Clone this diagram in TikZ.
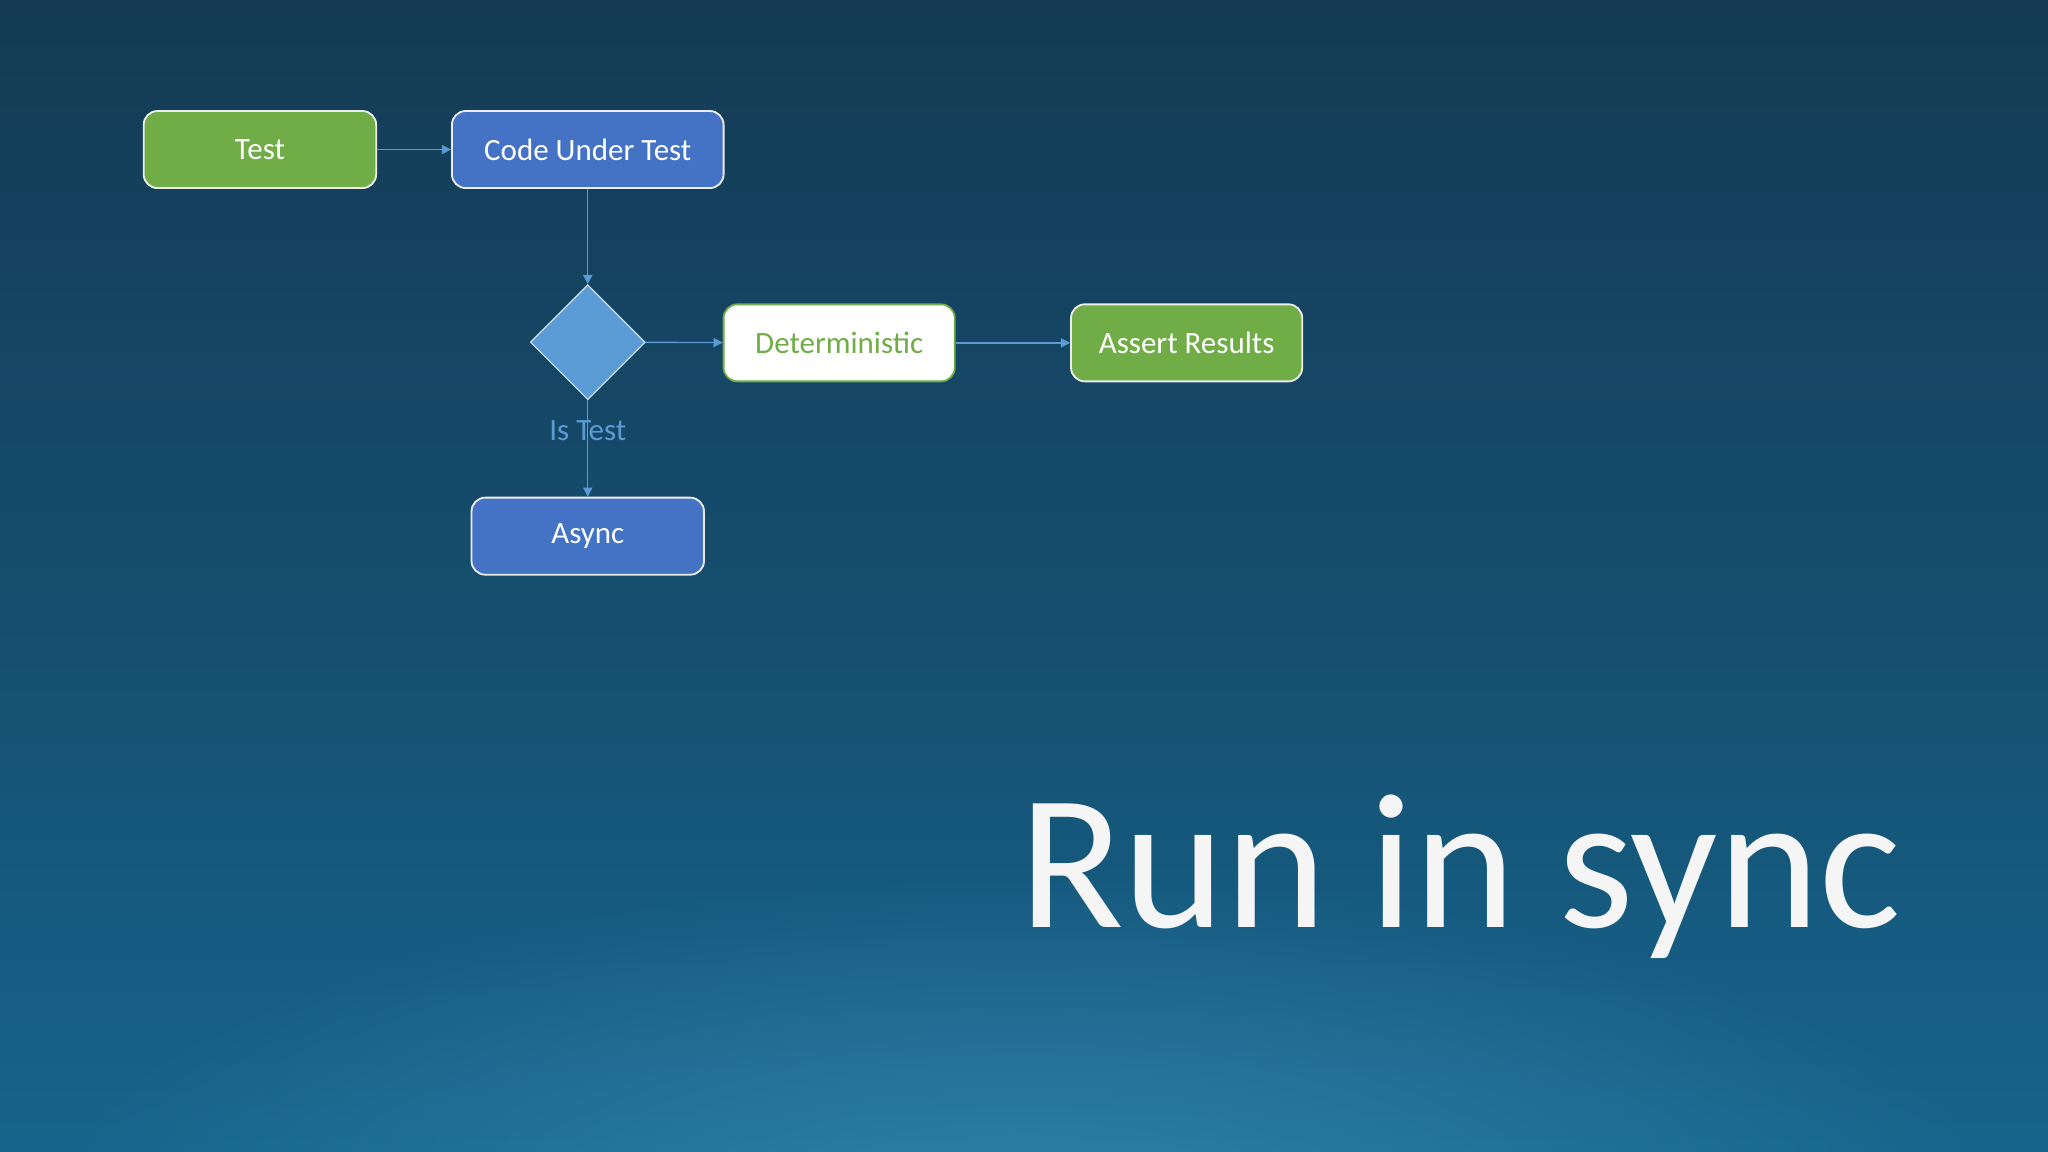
\documentclass[tikz,border=0pt]{standalone}
\usepackage{fontspec}
\setmainfont{Carlito}
\usetikzlibrary{arrows.meta,shapes.geometric,fadings}
\tikzfading[name=glowfade, inner color=transparent!0, outer color=transparent!100]
\definecolor{gfill}{RGB}{112,173,71}
\definecolor{bfill}{RGB}{68,114,196}
\definecolor{dfill}{RGB}{91,155,213}
\definecolor{bgtop}{RGB}{20,58,84}
\definecolor{bgbot}{RGB}{22,100,140}
\tikzset{
 box/.style={draw=white!85!gray,line width=0.8pt,rounded corners=6pt,minimum width=#1*0.02cm,minimum height=1.18cm,font=\fontsize{13.5}{16}\selectfont,text=white},
 gbox/.style={box=#1,fill=gfill},
 bbox/.style={box=#1,fill=bfill},
 conn/.style={draw=dfill,line width=0.6pt,-{Triangle[length=4pt,width=4pt]}}
}
\begin{document}
\begin{tikzpicture}[x=0.02cm,y=-0.02cm]
\useasboundingbox (0,0) rectangle (1568,882);
\shade[top color=bgtop,bottom color=bgbot,middle color=bgtop!55!bgbot] (0,0) rectangle (1568,882);
\begin{scope}
\clip (0,0) rectangle (1568,882);
\fill[cyan!45!bgbot,opacity=0.7,path fading=glowfade] (784,930) ellipse (760 and 260);
\end{scope}
\node[gbox=178] (test) at (199,114.5) {Test};
\node[bbox=208] (cut) at (450,114.5) {Code Under Test};
\node[diamond,fill=dfill,draw=white!70!dfill,line width=0.5pt,minimum width=1.76cm,minimum height=1.76cm,inner sep=0pt] (dec) at (450,262) {};
\node[box=177,fill=white,draw=gfill,text=gfill] (det) at (642.5,262.5) {Deterministic};
\node[gbox=177] (ar) at (908.5,262.5) {Assert Results};
\node[bbox=178] (async) at (450,410.5) {Async};
\draw[conn] (test) -- (cut);
\draw[conn] (cut) -- (dec);
\draw[conn] (dec) -- (det);
\draw[conn] (det) -- (ar);
\draw[conn] (dec) -- (async);
\node[text=dfill,font=\fontsize{13.5}{16}\selectfont] (lbl) at (450,330) {Is Test};
\node[anchor=base west,inner sep=0pt,text=white!92!gray,font=\fontsize{84}{90}\selectfont] (title) at (780,710) {Run in sync};
\end{tikzpicture}
\end{document}
